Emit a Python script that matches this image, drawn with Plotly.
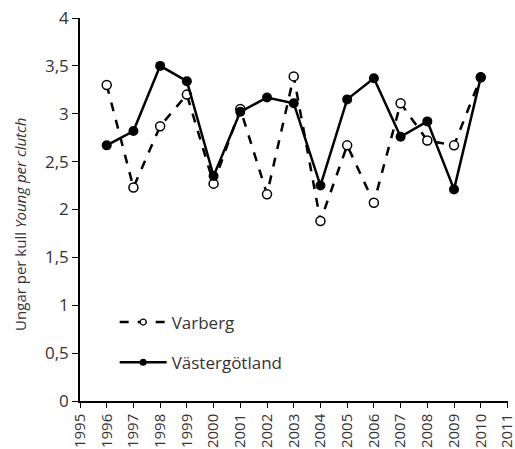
import plotly.graph_objects as go

years = list(range(1996, 2011))
varberg = [3.30, 2.23, 2.87, 3.20, 2.27, 3.05, 2.16, 3.39, 1.88, 2.67, 2.07, 3.11, 2.72, 2.67, 3.38]
vastergotland = [2.67, 2.82, 3.50, 3.34, 2.35, 3.02, 3.17, 3.11, 2.25, 3.15, 3.37, 2.76, 2.92, 2.21, 3.38]
y_ticks = [0, 0.5, 1, 1.5, 2, 2.5, 3, 3.5, 4]
y_ticktext = ["0", "0,5", "1", "1,5", "2", "2,5", "3", "3,5", "4"]
x_ticks = list(range(1995, 2012))

font_fam = "Open Sans, Liberation Sans, sans-serif"
txt = "#333333"

fig = go.Figure()
fig.add_trace(go.Scatter(
    x=years, y=varberg, name="Varberg", mode="lines+markers",
    line=dict(color="black", width=2.5, dash="dash"),
    marker=dict(symbol="circle", size=9, color="white", line=dict(color="black", width=1.5)),
    showlegend=False,
))
fig.add_trace(go.Scatter(
    x=years, y=vastergotland, name="Västergötland", mode="lines+markers",
    line=dict(color="black", width=2.5),
    marker=dict(symbol="circle", size=10, color="black"),
    showlegend=False,
))
# legend entries (smaller symbols as in the reference legend)
fig.add_trace(go.Scatter(
    x=[None], y=[None], name="Varberg", mode="lines+markers",
    line=dict(color="black", width=2.5, dash="dash"),
    marker=dict(symbol="circle", size=6, color="white", line=dict(color="black", width=1.2)),
    legendgroup="a",
))
fig.add_trace(go.Scatter(
    x=[None], y=[None], name="Västergötland", mode="lines+markers",
    line=dict(color="black", width=2.5),
    marker=dict(symbol="circle", size=7, color="black"),
    legendgroup="b",
))

fig.update_layout(
    width=515, height=449,
    margin=dict(l=80, r=7, t=18, b=48, autoexpand=False),
    paper_bgcolor="white", plot_bgcolor="white",
    font=dict(family=font_fam, size=14, color=txt),
    showlegend=True,
    legend=dict(x=0.081, y=0.252, xanchor="left", yanchor="top",
                bgcolor="rgba(0,0,0,0)", font=dict(size=17, color=txt),
                tracegroupgap=15, itemwidth=47),
    xaxis=dict(range=[1995, 2011.02], tickmode="array", tickvals=x_ticks,
               ticktext=[str(v) for v in x_ticks], tickangle=-90, automargin=False,
               ticklabeloverflow="allow",
               showgrid=False, zeroline=False, showline=True, linecolor="black",
               linewidth=1.5, ticks="outside", ticklen=5, tickcolor="black",
               tickfont=dict(size=15, color=txt)),
    yaxis=dict(range=[0, 4], tickmode="array", tickvals=y_ticks, ticktext=y_ticktext,
               automargin=False, ticklabeloverflow="allow",
               showgrid=False, zeroline=False, showline=True, linecolor="black",
               linewidth=1.5, ticks="outside", ticklen=6, tickcolor="black",
               tickfont=dict(size=17, color=txt)),
    annotations=[dict(text="Ungar per kull <i>Young per clutch</i>", xref="paper", yref="paper",
                      x=-0.14, y=0.46, xanchor="center", yanchor="middle", textangle=-90,
                      showarrow=False, font=dict(size=15, color=txt))],
)

fig.write_html("out.html", config={"displayModeBar": False},
               post_script="document.body.style.margin='0';")
